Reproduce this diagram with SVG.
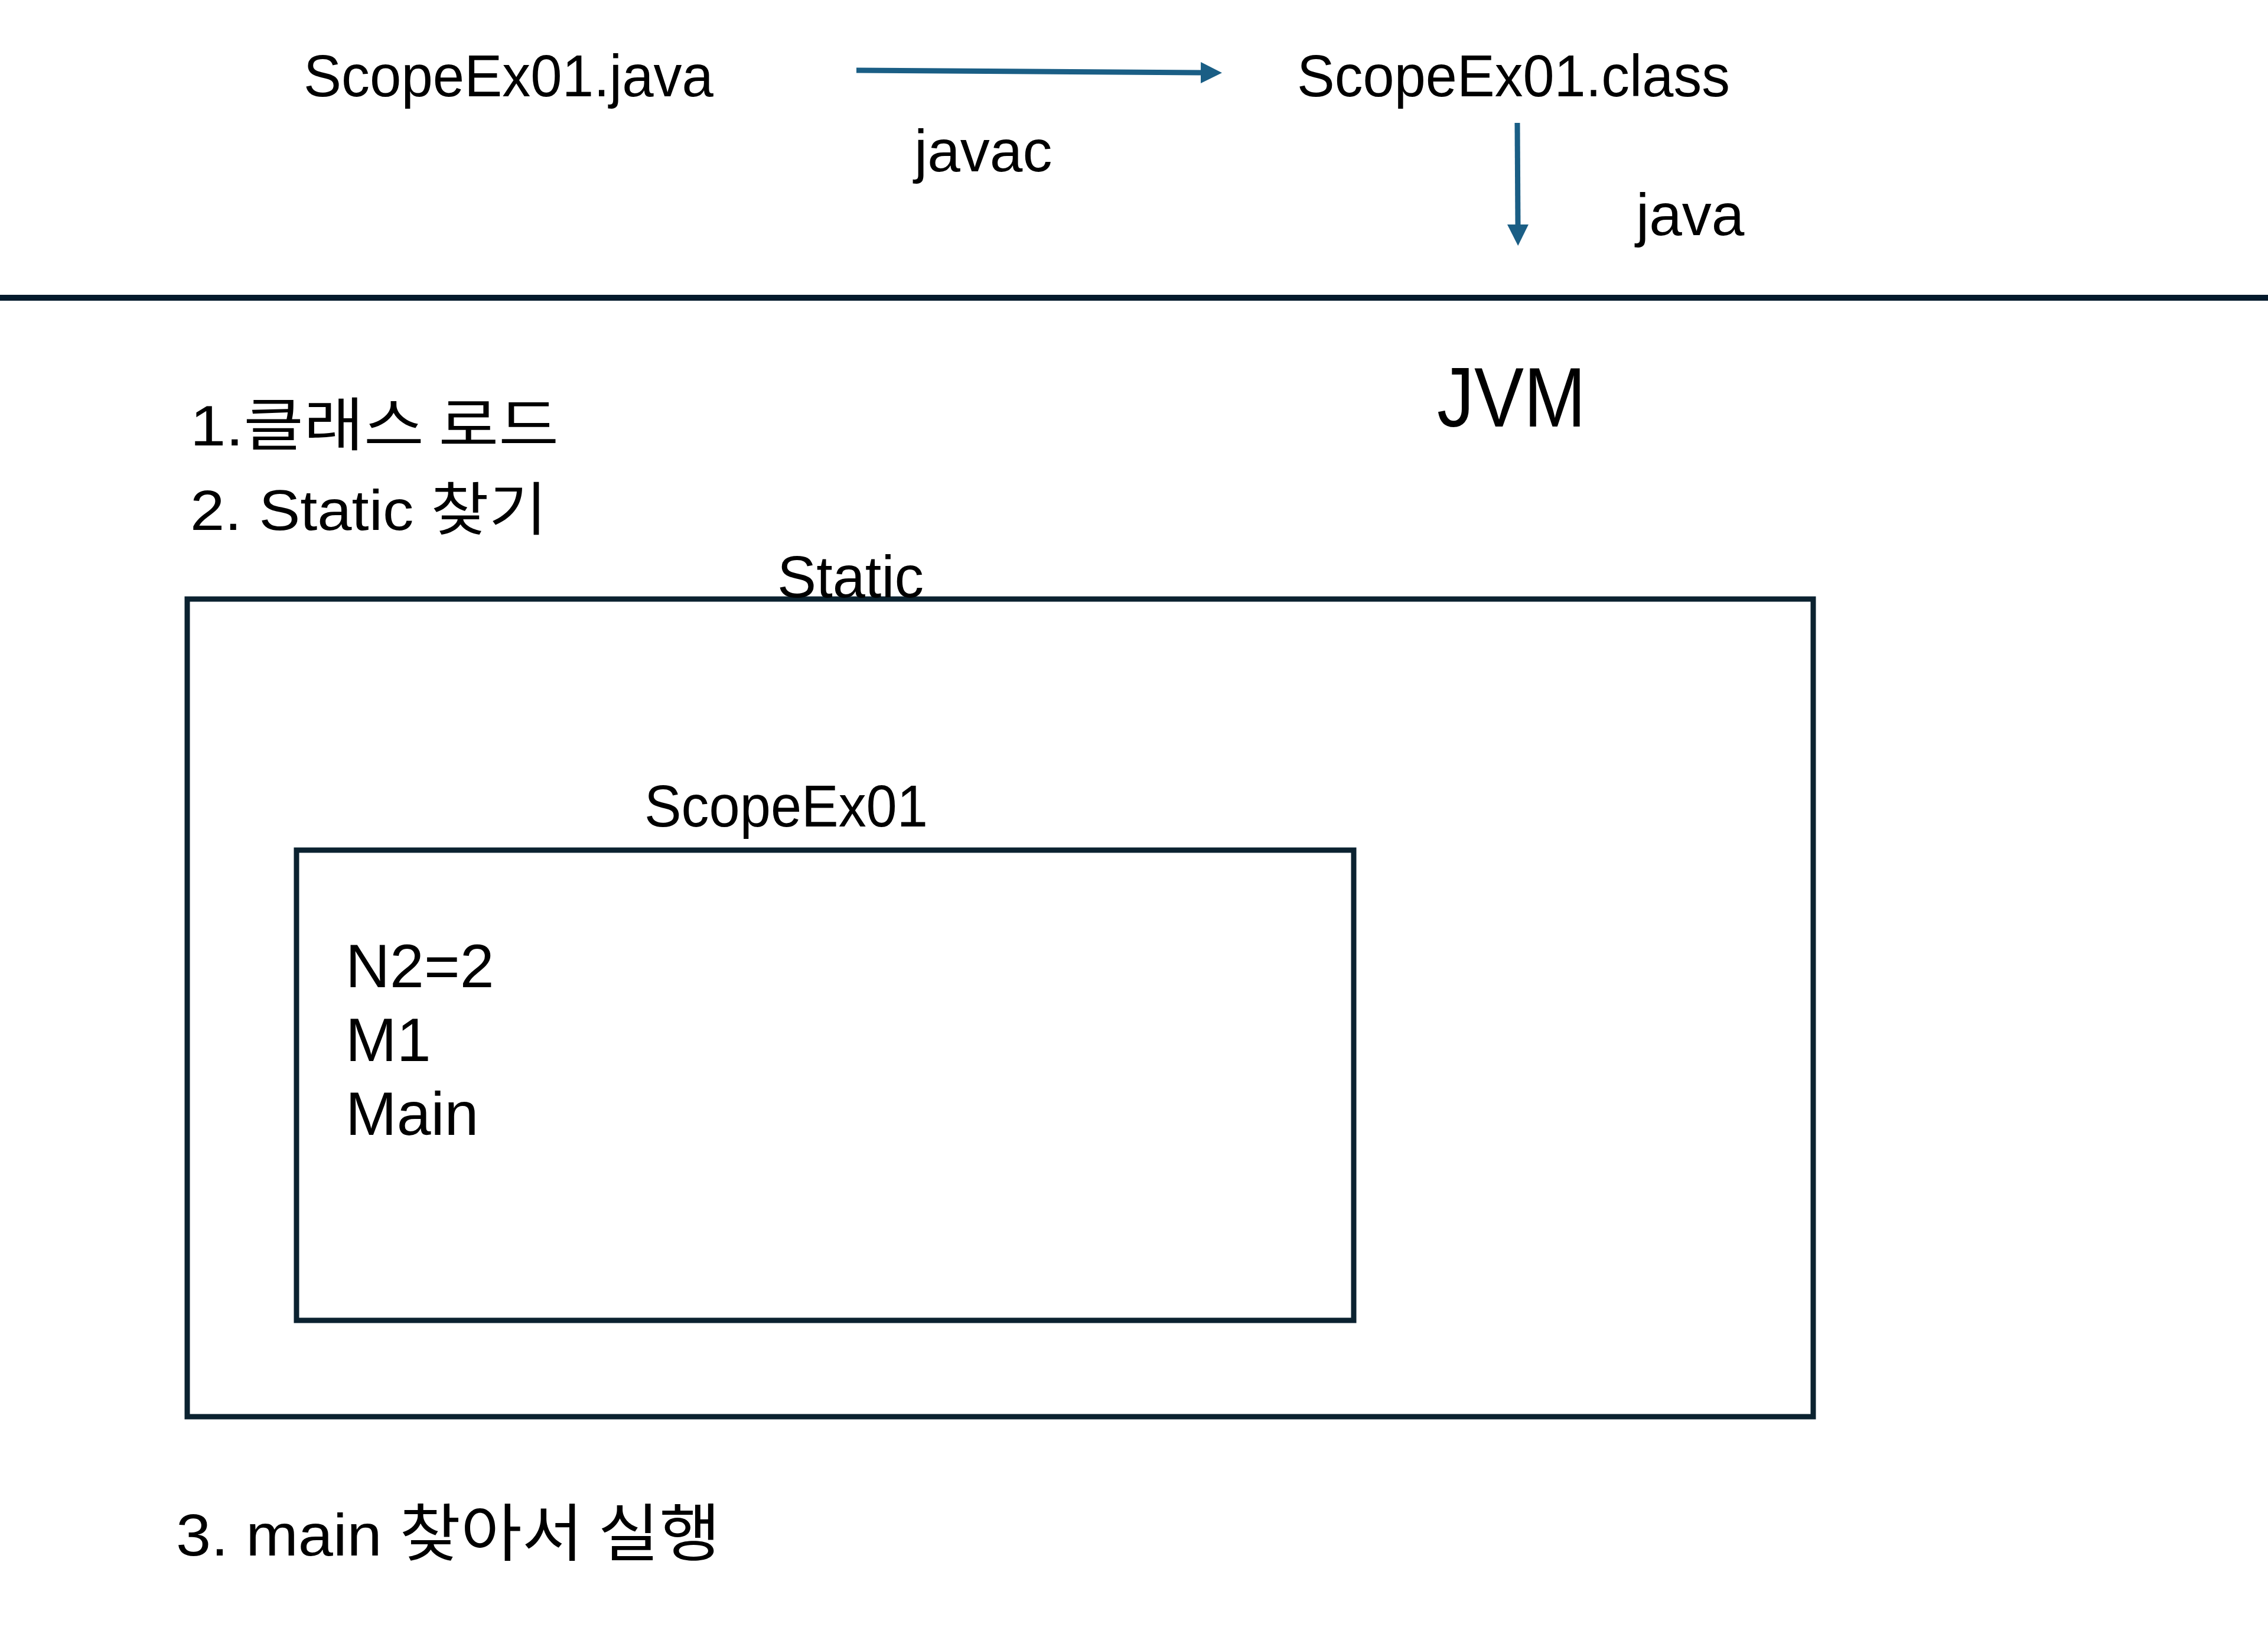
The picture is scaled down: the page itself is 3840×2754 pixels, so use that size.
<svg xmlns="http://www.w3.org/2000/svg" width="3840" height="2754" viewBox="0 0 3840 2754">
  <style>
    .t { font-family: "Liberation Sans", "Noto Sans CJK KR", sans-serif; fill: #000; }
    .k { font-family: "Liberation Sans", "Noto Sans CJK KR", sans-serif; fill: #000; }
    .ko { font-family: "Noto Sans CJK KR", sans-serif; font-size: 106px; }
    .ks { font-family: "Noto Sans CJK KR", sans-serif; font-size: 98px; }
    .box { fill: none; stroke: #0b2230; stroke-width: 9; }
    .conn { fill: none; stroke: #1a5e85; stroke-width: 9; }
  </style>
  <defs>
    <marker id="arrow" markerUnits="userSpaceOnUse" markerWidth="36" markerHeight="36" viewBox="0 0 36 36" refX="0" refY="18" orient="auto">
      <path d="M0,0 L36,18 L0,36 z" fill="#1a5e85"/>
    </marker>
  </defs>
  <rect x="0" y="0" width="3840" height="2754" fill="#ffffff"/>

  <g id="separator">
    <line x1="0" y1="504" x2="3840" y2="504" stroke="#041a2c" stroke-width="10"/>
  </g>

  <g id="connectors">
    <path class="conn" d="M1450,119 L2033,123" marker-end="url(#arrow)"/>
    <path class="conn" d="M2569,208 L2570,380" marker-end="url(#arrow)"/>
  </g>

  <g id="node-java-file">
    <text class="t" x="514" y="163" font-size="100" textLength="694" lengthAdjust="spacingAndGlyphs">ScopeEx01.java</text>
  </g>
  <g id="label-javac">
    <text class="t" x="1548" y="290" font-size="100">javac</text>
  </g>
  <g id="node-class-file">
    <text class="t" x="2196" y="163" font-size="100" textLength="733" lengthAdjust="spacingAndGlyphs">ScopeEx01.class</text>
  </g>
  <g id="label-java">
    <text class="t" x="2770" y="398" font-size="100">java</text>
  </g>

  <g id="node-jvm">
    <text class="t" x="2433" y="722" font-size="142" textLength="252" lengthAdjust="spacingAndGlyphs">JVM</text>
  </g>

  <g id="steps">
    <text class="k" x="322" y="754" font-size="96" textLength="624" lengthAdjust="spacingAndGlyphs">1.<tspan class="ks">클래스 로드</tspan></text>
    <text class="k" x="322" y="897" font-size="96" textLength="604" lengthAdjust="spacingAndGlyphs">2. Static <tspan class="ks">찾기</tspan></text>
  </g>

  <g id="node-static">
    <rect class="box" x="317" y="1014" width="2753" height="1384"/>
    <text class="t" x="1316" y="1011" font-size="100" textLength="248" lengthAdjust="spacingAndGlyphs">Static</text>
  </g>

  <g id="node-scopeex01">
    <rect class="box" x="502" y="1439" width="1790" height="796"/>
    <text class="t" x="1091" y="1399" font-size="100" textLength="480" lengthAdjust="spacingAndGlyphs">ScopeEx01</text>
    <text class="t" x="585" y="1671" font-size="104">N2=2</text>
    <text class="t" x="585" y="1796" font-size="104">M1</text>
    <text class="t" x="585" y="1921" font-size="104">Main</text>
  </g>

  <g id="step3">
    <text class="k" x="298" y="2633" font-size="100" textLength="922" lengthAdjust="spacingAndGlyphs">3. main <tspan class="ko">찾아서 실행</tspan></text>
  </g>
</svg>
